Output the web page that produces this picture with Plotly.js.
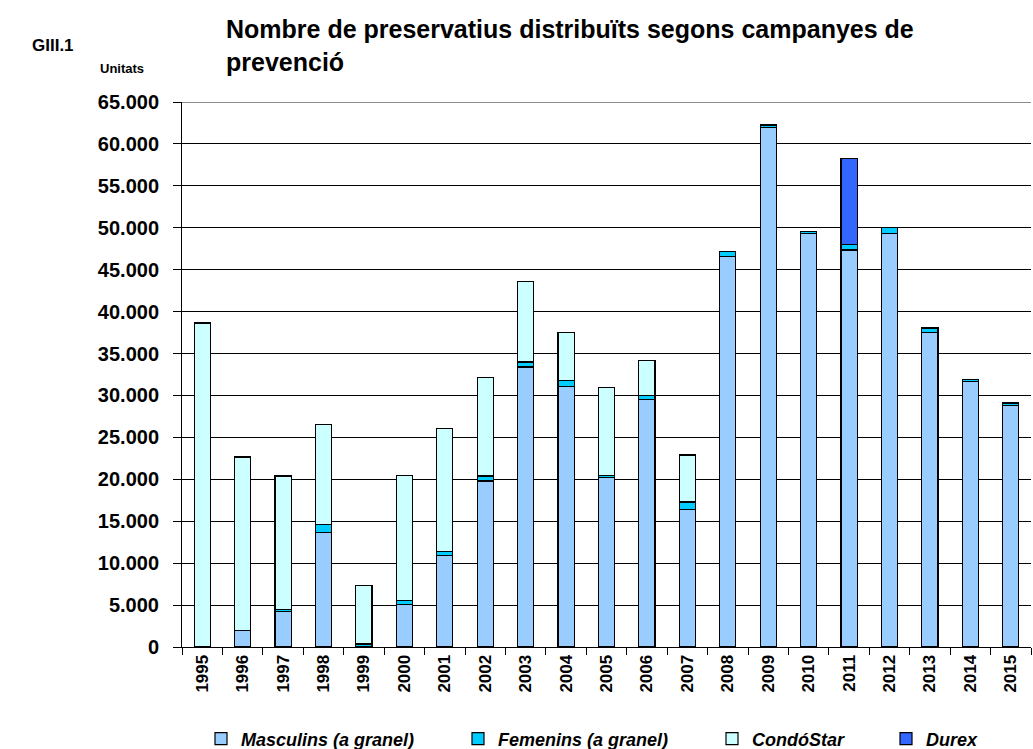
<!DOCTYPE html>
<html>
<head>
<meta charset="utf-8">
<script src="https://cdn.plot.ly/plotly-3.0.1.min.js"></script>
<style>html,body{margin:0;padding:0;overflow:hidden;background:#fff;}</style>
</head>
<body>
<div id="chart" style="width:1033px;height:749px;"></div>
<script>
const years = ["1995","1996","1997","1998","1999","2000","2001","2002","2003","2004","2005","2006","2007","2008","2009","2010","2011","2012","2013","2014","2015"];
const masculins = [null, 2000, 4200, 13700, null, 5100, 10900, 19800, 33400, 31100, 20200, 29500, 16400, 46550, 61950, 49300, 47350, 49350, 37550, 31700, 28850];
const femenins  = [null, null, 250, 900, 350, 400, 450, 600, 600, 700, 250, 450, 900, 600, 300, 250, 700, 650, 500, 250, 250];
const condostar = [38650, 20650, 15950, 11900, 6950, 14950, 14750, 11750, 9600, 5700, 10500, 4250, 5600, null, null, null, null, null, null, null, null];
const durex     = [null, null, null, null, null, null, null, null, null, null, null, null, null, null, null, null, 10200, null, null, null, null];
const seriesNames = ["Masculins (a granel)", "Femenins (a granel)", "CondóStar", "Durex"];
const yTickVals = [0,5000,10000,15000,20000,25000,30000,35000,40000,45000,50000,55000,60000,65000];

const FONT = "Liberation Sans, Arial, Helvetica, sans-serif";
const colors = ["#99CCFF", "#00CCFF", "#CCFFFF", "#3366FF"];
const legendIds = ["legend", "legend2", "legend3", "legend4"];
const legendX = [201, 458, 712, 886];

const data = [masculins, femenins, condostar, durex].map((vals, i) => ({
  type: "bar",
  name: seriesNames[i],
  x: years,
  y: vals,
  legend: legendIds[i],
  marker: {color: colors[i], line: {color: "#000", width: 1.2}},
  hoverinfo: "x+y+name"
}));

const layout = {
  width: 1033, height: 749,
  margin: {l: 182, r: 2, t: 102, b: 102},
  paper_bgcolor: "#fff", plot_bgcolor: "#fff",
  barmode: "stack", bargap: 0.6,
  separators: ",.",
  font: {family: FONT, color: "#000", weight: "bold"},
  title: {
    text: "Nombre de preservatius distribuïts segons campanyes de<br>prevenció",
    font: {family: FONT, size: 25, color: "#000", weight: "bold"},
    xref: "container", x: 226/1033, xanchor: "left",
    yref: "container", y: 0.949, yanchor: "top"
  },
  xaxis: {
    type: "category", range: [-0.5, 20.5],
    tickson: "boundaries", ticks: "outside", ticklen: 7, tickcolor: "#000", tickwidth: 1,
    showline: true, linecolor: "#000", linewidth: 1,
    showgrid: false, tickangle: -90,
    tickfont: {family: FONT, size: 17, color: "#000", weight: "bold"},
    fixedrange: true
  },
  yaxis: {
    range: [0, 65000], tickvals: yTickVals, tickformat: ",d",
    ticks: "outside", ticklen: 8, tickcolor: "#000", tickwidth: 1,
    ticklabelstandoff: 10,
    showline: true, linecolor: "#000", linewidth: 1,
    showgrid: true, gridcolor: "#000", gridwidth: 1,
    zeroline: false,
    tickfont: {family: FONT, size: 20, color: "#000", weight: "bold"},
    fixedrange: true
  },
  shapes: [{type: "line", xref: "paper", yref: "y", x0: 0, x1: 1, y0: 65000, y1: 65000,
            line: {color: "#8c8c8c", width: 2}}],
  annotations: [
    {text: "GIII.1", xref: "paper", yref: "paper", x: (30-182)/849, y: (647-45)/545,
     xanchor: "left", yanchor: "middle", showarrow: false,
     font: {family: FONT, size: 17, color: "#000", weight: "bold"}},
    {text: "Unitats", xref: "paper", yref: "paper", x: (98-182)/849, y: (647-68)/545,
     xanchor: "left", yanchor: "middle", showarrow: false,
     font: {family: FONT, size: 13, color: "#000", weight: "bold"}}
  ],
  showlegend: true
};

legendIds.forEach((id, i) => {
  layout[id] = {
    orientation: "h", xref: "container", yref: "container",
    x: legendX[i] / 1033, xanchor: "left", y: 1 - 739/749, yanchor: "middle",
    bgcolor: "rgba(0,0,0,0)",
    font: {family: FONT, size: 18, color: "#000", weight: "bold", style: "italic"},
    itemclick: false, itemdoubleclick: false
  };
});

Plotly.newPlot("chart", data, layout, {displayModeBar: false});
</script>
</body>
</html>
